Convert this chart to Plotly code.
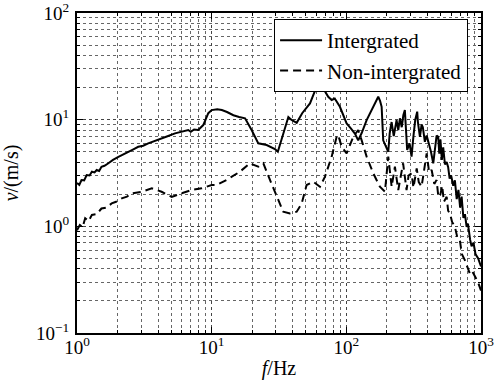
import plotly.graph_objects as go

freq_int = [1.0, 1.04, 1.08, 1.13, 1.18, 1.24, 1.29, 1.35, 1.40, 1.46, 1.52, 1.6, 1.71, 1.85, 2.03, 2.2, 2.40,
            2.6, 2.85, 3.1, 3.38, 3.8, 4.25, 4.7, 5.34, 6.0, 6.7, 7.0, 7.4, 7.95, 8.66, 9.44, 10.0, 11.0,
            11.9, 13.0, 14.5, 16.0, 17.7, 19.8, 22.2, 25.6, 29.5, 31, 33.1, 37.1, 39, 42.8, 47, 53.7, 60.8,
            64, 67.4, 73.4, 77.8, 82, 89.6, 95, 100.5, 108, 115.8, 122.5, 130, 141.5, 155, 165, 172.6, 178,
            182.9, 187.9, 195, 204.8, 210, 216.9, 225, 236, 243, 250, 258, 265, 272, 278, 283, 295, 305, 315,
            325, 336, 340, 352, 362, 370, 383, 395, 410, 425, 442, 460, 468, 481, 490, 500, 512, 524, 540,
            556, 570, 585, 600, 622, 640, 660, 680, 700, 718, 740, 760, 782, 800, 830, 851, 880, 910, 953, 1000]
vel_int = [2.55, 2.45, 2.72, 2.7, 3.03, 3.0, 3.25, 3.2, 3.37, 3.3, 3.62, 3.7, 3.9, 4.2, 4.49, 4.7, 5.0,
           5.25, 5.57, 5.7, 6.0, 6.3, 6.68, 7.0, 7.44, 7.7, 8.0, 7.7, 8.1, 8.0, 8.9, 11.5, 12.3, 12.5,
           12.3, 11.8, 11.0, 10.6, 10.3, 8.0, 6.0, 5.78, 5.3, 5.0, 6.7, 10.6, 10.0, 9.35, 11.5, 14.2, 21.1,
           20.5, 19.6, 16.4, 15.3, 15.8, 13.2, 11.0, 9.2, 8.3, 7.4, 6.4, 7.5, 9.9, 12.5, 15.0, 16.4, 15.0,
           13.2, 6.4, 5.8, 5.0, 7.5, 9.5, 7.0, 9.9, 8.0, 10.3, 8.5, 11.0, 12.3, 8.0, 5.2, 6.0, 4.5, 7.0,
           10.0, 11.9, 9.5, 6.9, 9.0, 8.5, 6.2, 7.1, 6.0, 5.0, 3.9, 5.5, 7.1, 6.9, 4.8, 6.5, 4.2, 5.5, 3.8,
           4.0, 3.6, 2.8, 3.0, 2.4, 2.7, 1.8, 2.2, 1.5, 1.9, 1.2, 1.3, 0.99, 1.06, 0.75, 0.65, 0.7, 0.55, 0.5, 0.42]

freq_non = [1.0, 1.05, 1.1, 1.15, 1.22, 1.29, 1.4, 1.52, 1.65, 1.81, 1.95, 2.15, 2.35, 2.55, 3.02, 3.59,
            4.25, 5.05, 5.98, 7.1, 8.43, 10.0, 10.9, 12.9, 16.2, 19.2, 22.2, 24.2, 27.1, 30.4, 34.0, 38.1,
            42.8, 46.6, 50.7, 56.8, 63.7, 69.4, 77.8, 84.7, 87, 92.3, 100.5, 112.5, 122.5, 130, 141.5, 158.5,
            177.5, 193.5, 204.8, 217, 229.5, 243, 264, 280, 290, 305, 315, 333, 345, 362, 380, 395, 412, 430,
            450, 468, 480, 495, 515, 530, 556, 570, 588, 610, 640, 665, 697, 720, 760, 790, 827, 860, 901, 950, 1000]
vel_non = [0.92, 1.03, 0.98, 1.19, 1.12, 1.28, 1.3, 1.47, 1.5, 1.64, 1.7, 1.83, 1.9, 2.04, 2.11, 2.27,
           2.11, 1.89, 2.04, 2.19, 2.27, 2.44, 2.44, 2.72, 3.25, 3.9, 3.62, 3.9, 2.72, 1.89, 1.37, 1.32,
           1.37, 1.64, 2.44, 2.62, 2.35, 2.92, 4.5, 6.9, 7.2, 5.57, 4.83, 6.9, 8.0, 6.4, 4.5, 3.14,
           2.35, 2.11, 4.5, 2.35, 3.62, 2.19, 3.9, 2.19, 3.0, 3.14, 2.3, 3.5, 2.6, 2.35, 3.5, 4.83, 3.2, 3.37,
           2.5, 2.72, 2.0, 1.89, 2.4, 1.7, 1.89, 1.4, 1.32, 1.1, 0.99, 0.8, 0.74, 0.55, 0.48, 0.42, 0.36, 0.38, 0.34, 0.3, 0.25]

x_tickvals = [1, 10, 100, 1000]
x_ticktext = ["10<sup>0</sup>", "10<sup>1</sup>", "10<sup>2</sup>", "10<sup>3</sup>"]
y_tickvals = [0.1, 1, 10, 100]
y_ticktext = ["10<sup>−1</sup>", "10<sup>0</sup>", "10<sup>1</sup>", "10<sup>2</sup>"]

x_minor = [m * d for d in (1, 10, 100) for m in range(2, 10)]
y_minor = [m * d for d in (0.1, 1, 10) for m in range(2, 10)]

FONT = "Liberation Serif"

fig = go.Figure()
fig.add_trace(go.Scatter(x=freq_int, y=vel_int, mode="lines", name="Intergrated",
                         line=dict(color="black", width=2)))
fig.add_trace(go.Scatter(x=freq_non, y=vel_non, mode="lines", name="Non-intergrated",
                         line=dict(color="black", width=2, dash="8px,5px")))

axis_common = dict(
    type="log", showline=True, linecolor="black", linewidth=2, mirror="allticks",
    ticks="inside", ticklen=6, tickcolor="black", tickwidth=1,
    showgrid=True, gridcolor="#444", gridwidth=1, griddash="dot",
    tickfont=dict(family=FONT, size=19, color="black"),
    zeroline=False, automargin=False, ticklabeloverflow="allow",
)

fig.update_xaxes(range=[0, 3], tickvals=x_tickvals, ticktext=x_ticktext, ticklabelstandoff=-4,
                 minor=dict(tickvals=x_minor, ticks="inside", ticklen=3, tickcolor="black",
                            showgrid=True, gridcolor="#666", griddash="dot", gridwidth=1),
                 title=dict(text="<i>f</i>/Hz", font=dict(family=FONT, size=20, color="black"), standoff=8),
                 **axis_common)
fig.update_yaxes(range=[-1, 2], tickvals=y_tickvals, ticktext=y_ticktext, ticklabelstandoff=2,
                 minor=dict(tickvals=y_minor, ticks="inside", ticklen=3, tickcolor="black",
                            showgrid=True, gridcolor="#666", griddash="dot", gridwidth=1),
                 title=dict(text="<i>v</i>/(m/s)", font=dict(family=FONT, size=20, color="black"), standoff=12),
                 **axis_common)

fig.update_layout(
    width=504, height=380,
    margin=dict(l=77, r=23, t=13, b=47),
    paper_bgcolor="white", plot_bgcolor="white",
    font=dict(family=FONT, color="black"),
    legend=dict(x=0.968, y=0.981, xanchor="right", yanchor="top",
                bgcolor="white", bordercolor="black", borderwidth=1,
                font=dict(family=FONT, size=21, color="black"),
                tracegroupgap=0, itemwidth=42),
    showlegend=True,
)

fig.write_html("out.html", config={"displayModeBar": False},
               post_script="document.body.style.margin='0';")
